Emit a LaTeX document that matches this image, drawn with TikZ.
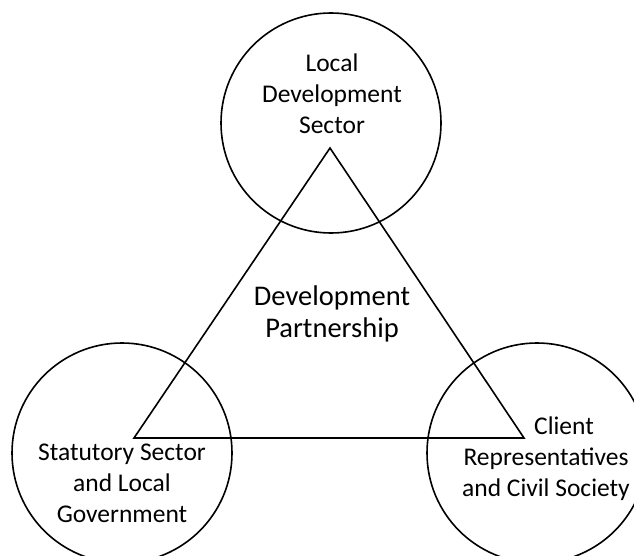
\documentclass[tikz,border=0pt]{standalone}
\usepackage{fontspec}
\setmainfont{Carlito}
\usetikzlibrary{positioning}

\begin{document}
\begin{tikzpicture}[x=1pt,y=-1pt,line width=1.6pt]
        \tikzstyle{sector}=[circle,draw=black,fill=none,minimum size=220pt,inner sep=0pt]
        \tikzstyle{sectortext}=[align=center,inner sep=0pt,font=\fontsize{25.5}{31}\selectfont]
        \useasboundingbox (0,0) rectangle (634,556);
        \clip (0,0) rectangle (634,556);
        \node[sector]       (1) at (331,123)    {};
        \node[sector]       (2) at (122,453)    {};
        \node[sector]       (3) at (537,453)    {};
        \coordinate (top) at (330,148);
        \coordinate (left) at (134,438);
        \coordinate (right) at (524,438);
        \draw (top) -- (left) -- (right) -- cycle;
        \node[sectortext]   (l1) at (332,94)    {Local\\Development\\Sector};
        \node[sectortext]   (l2) at (122,483)   {Statutory Sector\\and Local\\Government};
        \node[sectortext]   (l3) at (546,459)   {\hspace*{36pt}Client\\Representatives\\and Civil Society};
        \node[sectortext, font=\fontsize{28.5}{32}\selectfont] (dp) at (332,314) {Development\\Partnership};
    \end{tikzpicture}
\end{document}
